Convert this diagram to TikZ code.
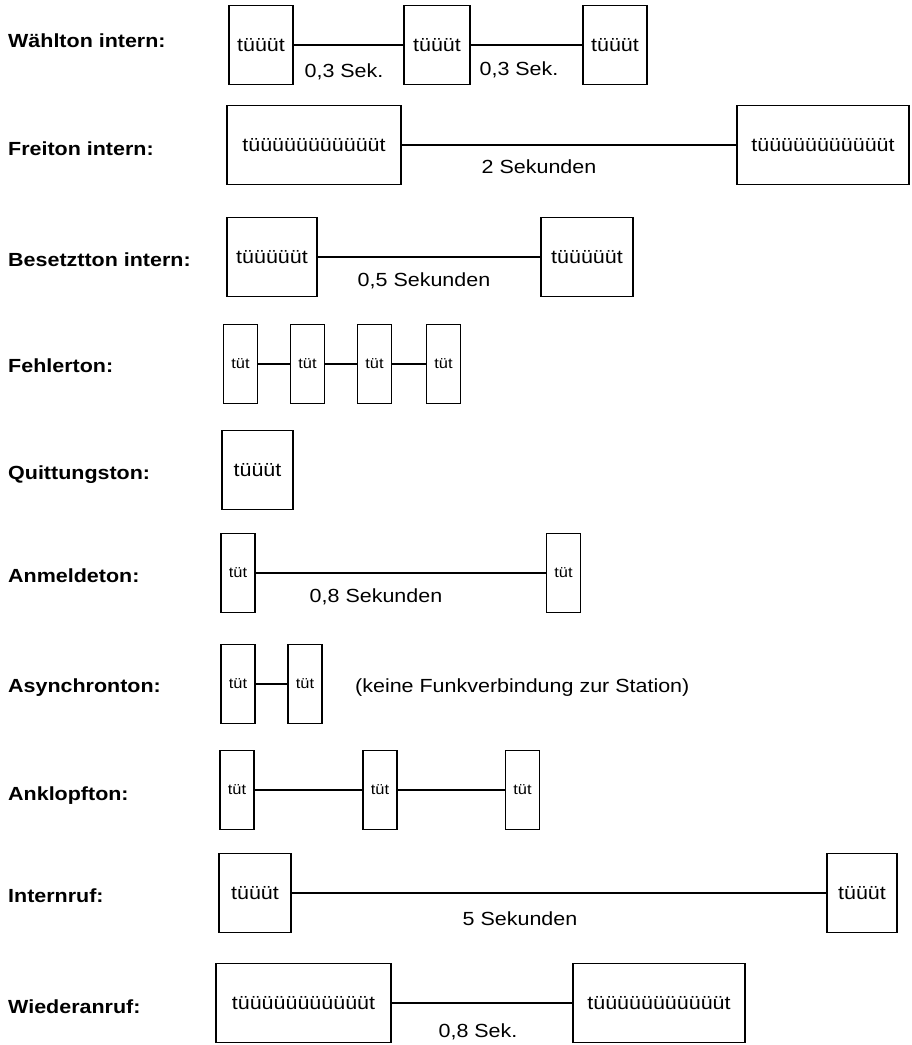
\documentclass[tikz,border=0pt]{standalone}
\usepackage{fontspec}
\setmainfont{Liberation Sans}[FakeStretch=1.13]
\usepackage{tikz}
\usetikzlibrary{positioning}
\def\gross{\fontsize{19}{22}\selectfont}
\def\klein{\fontsize{14.5}{17}\selectfont}
\tikzstyle{bez} = [anchor=base west, inner sep=0pt, font=\gross\bfseries]
\tikzstyle{ton} = [draw, rectangle, line width=1.2pt, inner sep=0pt, minimum height=79pt, font=\gross]
\tikzstyle{tut} = [ton, minimum width=34pt, font=\klein]
\tikzstyle{dauer} = [anchor=base, inner sep=0pt, font=\gross]
\tikzstyle{pause} = [line width=1.2pt]

\begin{document}
\begin{tikzpicture}[x=1pt,y=-1pt]
\useasboundingbox (0,0) rectangle (912,1045);
% Waehlton
\node[bez] (n1) at (8,47) {Wählton intern:};
\node[ton, minimum width=64] (w1) at (261,45) {tüüüt};
\node[ton, minimum width=66] (w2) at (437,45) {tüüüt};
\node[ton, minimum width=64] (w3) at (615,45) {tüüüt};
\draw[pause] (w1)--(w2);
\draw[pause] (w2)--(w3);
\node[dauer] (d1) at (344,77) {0,3 Sek.};
\node[dauer] (d2) at (519,75) {0,3 Sek.};
% Freiton
\node[bez] (n2) at (8,155) {Freiton intern:};
\node[ton, minimum width=174] (f1) at (314,145) {tüüüüüüüüüüüt};
\node[ton, minimum width=172] (f2) at (823,145) {tüüüüüüüüüüüt};
\draw[pause] (f1)--(f2);
\node[dauer] (d3) at (539,173) {2 Sekunden};
% Besetztton
\node[bez] (n3) at (8,266) {Besetztton intern:};
\node[ton, minimum width=90] (b1) at (272,257) {tüüüüüt};
\node[ton, minimum width=92] (b2) at (587,257) {tüüüüüt};
\draw[pause] (b1)--(b2);
\node[dauer] (d4) at (424,286) {0,5 Sekunden};
% Fehlerton
\node[bez] (n4) at (8,372) {Fehlerton:};
\node[tut] (e1) at (240.5,364) {tüt};
\node[tut] (e2) at (307.5,364) {tüt};
\node[tut] (e3) at (374.5,364) {tüt};
\node[tut] (e4) at (443.5,364) {tüt};
\draw[pause] (e1)--(e2);
\draw[pause] (e2)--(e3);
\draw[pause] (e3)--(e4);
% Quittungston
\node[bez] (n5) at (8,479) {Quittungston:};
\node[ton, minimum width=71] (q1) at (257.5,470) {tüüüt};
% Anmeldeton
\node[bez] (n6) at (8,582) {Anmeldeton:};
\node[tut] (a1) at (238,573) {tüt};
\node[tut] (a2) at (563.5,573) {tüt};
\draw[pause] (a1)--(a2);
\node[dauer] (d5) at (376,602) {0,8 Sekunden};
% Asynchronton
\node[bez] (n7) at (8,692) {Asynchronton:};
\node[tut] (s1) at (238,684) {tüt};
\node[tut] (s2) at (305,684) {tüt};
\draw[pause] (s1)--(s2);
\node[anchor=base west, inner sep=0pt, font=\gross] (hinweis) at (355,692) {(keine Funkverbindung zur Station)};
% Anklopfton
\node[bez] (n8) at (8,800) {Anklopfton:};
\node[tut] (k1) at (237,790) {tüt};
\node[tut] (k2) at (380,790) {tüt};
\node[tut] (k3) at (522.5,790) {tüt};
\draw[pause] (k1)--(k2);
\draw[pause] (k2)--(k3);
% Internruf
\node[bez] (n9) at (8,902) {Internruf:};
\node[ton, minimum width=72] (i1) at (255,893) {tüüüt};
\node[ton, minimum width=70] (i2) at (862,893) {tüüüt};
\draw[pause] (i1)--(i2);
\node[dauer] (d6) at (520,925) {5 Sekunden};
% Wiederanruf
\node[bez] (n10) at (8,1013) {Wiederanruf:};
\node[ton, minimum width=175] (r1) at (303.5,1003) {tüüüüüüüüüüüt};
\node[ton, minimum width=172] (r2) at (659,1003) {tüüüüüüüüüüüt};
\draw[pause] (r1)--(r2);
\node[dauer] (d7) at (478,1037) {0,8 Sek.};
\end{tikzpicture}
\end{document}
